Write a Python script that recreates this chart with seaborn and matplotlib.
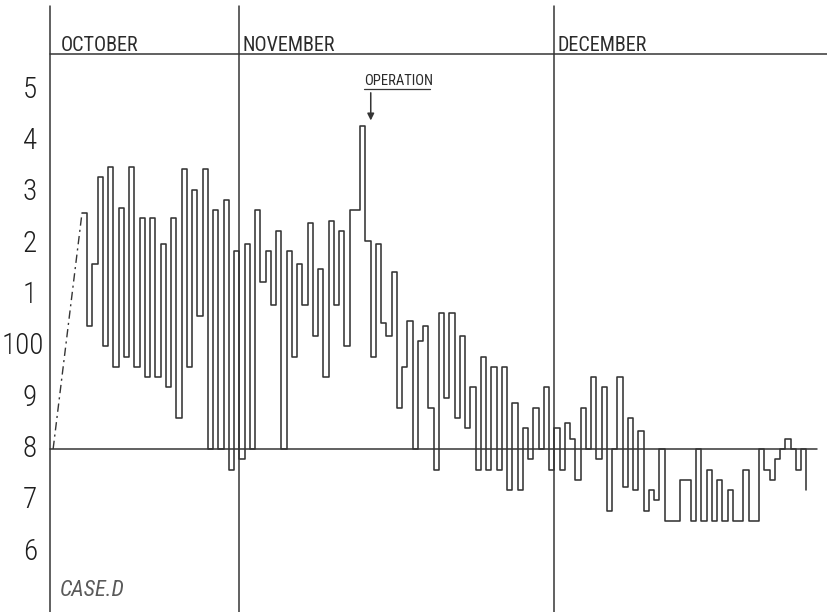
import matplotlib
matplotlib.use("Agg")
import matplotlib.pyplot as plt
from matplotlib import font_manager
import pandas as pd
import seaborn as sns

# Twice-daily temperature readings (deg F), first reading on the morning of 17 October
temps = [
    102.6, 100.4, 101.6, 103.3, 100.0, 103.5, 99.6, 102.7, 99.8, 103.5,
    99.6, 102.5, 99.4, 102.5, 99.4, 102.0, 99.2, 102.5, 98.6, 103.45,
    99.6, 103.05, 100.6, 103.45, 98.0, 102.65, 98.0, 102.85, 97.6, 101.85,
    # November
    97.8, 102.0, 98.0, 102.65, 101.25, 101.85, 100.8, 102.25, 98.0, 101.85,
    99.8, 101.6, 100.8, 102.4, 100.2, 101.5, 99.4, 102.45, 100.8, 102.25,
    100.0, 102.65, 102.65, 104.3, 102.05, 99.8, 102.0, 100.45, 100.2, 101.45,
    98.8, 99.6, 100.5, 98.0, 100.1, 100.4, 98.8, 97.6, 100.65, 99.0,
    100.65, 98.6, 100.2, 98.4, 99.2, 97.6, 99.8, 97.6, 99.6, 97.6,
    99.6, 97.2, 98.9, 97.2, 98.4, 97.8, 98.8, 98.0, 99.2, 97.6,
    # December
    98.4, 97.6, 98.5, 98.2, 97.4, 98.8, 98.0, 99.4, 97.8, 99.2,
    96.8, 98.0, 99.4, 97.25, 98.6, 97.2, 98.35, 96.8, 97.2, 97.0,
    98.0, 96.6, 96.6, 96.6, 97.4, 97.4, 96.6, 98.0, 96.6, 97.6,
    96.6, 97.4, 96.6, 97.2, 96.6, 96.6, 97.6, 96.6, 96.6, 98.0,
    97.6, 97.4, 97.8, 98.0, 98.2, 98.0, 97.6, 98.0, 97.2,
]
readings = list(range(len(temps)))

# Dotted lead-in from admission to the first charted reading
lead_x = [-5.5, 0]
lead_t = [98.0, 102.6]

# Month columns: reading index where each column begins
months = ["OCTOBER", "NOVEMBER", "DECEMBER"]
month_starts = [-6, 30, 90]

# Temperature scale labels (only the last digit, except 100)
scale_levels = [105, 104, 103, 102, 101, 100, 99, 98, 97, 96]
scale_labels = ["5", "4", "3", "2", "1", "100", "9", "8", "7", "6"]

normal_temp = 98.0
operation_reading = 55
operation_label = "OPERATION"
case_label = "CASE.D"

sns.set_theme(style="white")
available = {f.name for f in font_manager.fontManager.ttflist}


def pick(*names):
    for n in names:
        if n in available:
            return n
    return "DejaVu Sans"


narrow = pick("Liberation Sans Narrow", "DejaVu Sans Condensed", "Roboto Condensed",
              "Open Sans Condensed", "Liberation Sans")
plt.rcParams["font.family"] = [narrow, "DejaVu Sans"]

W, H = 828, 612
fig = plt.figure(figsize=(W / 100, H / 100), dpi=100)
ax = fig.add_axes([0, 0, 1, 1])

# Chart geometry (pixels): first reading at x=82, 5.25 px per reading,
# the 98 degree rule at y=449, 51.3 px per degree
X0, DX = 82.0, 5.25
Y98, DY = 449.0, 51.3


def kx(px):
    return (px - X0) / DX


def ty(py):
    return normal_temp + (Y98 - py) / DY


ax.set_xlim(kx(0), kx(W))
ax.set_ylim(ty(H), ty(0))
ax.axis("off")

ink = "#353535"

# Column rules and header rule
for s in month_starts:
    ax.axvline(s, ymin=0, ymax=1 - 6 / H, color=ink, lw=1.1)
ax.plot([month_starts[0], kx(W)], [ty(54), ty(54)], color=ink, lw=1.1)
ax.plot([month_starts[0], kx(817)], [normal_temp, normal_temp], color=ink, lw=1.1)

# Month headings
offsets_px = [10, 3, 3]
for name, s, off in zip(months, month_starts, offsets_px):
    ax.text(s + off / DX, ty(51), name, fontsize=14.5, color="#2b2b2b",
            ha="left", va="baseline")

# Temperature scale
for lvl, lab in zip(scale_levels, scale_labels):
    if len(lab) > 1:
        ax.text(kx(44), lvl, lab, fontsize=21, color="#1e1e1e", ha="right",
                va="center", fontweight="light")
    else:
        ax.text(kx(30), lvl, lab, fontsize=21, color="#1e1e1e", ha="center",
                va="center", fontweight="light")

# Temperature trace
df = pd.DataFrame({"reading": readings, "temp": temps})
sns.lineplot(data=df, x="reading", y="temp", drawstyle="steps-post",
             color=ink, lw=1.15, estimator=None, sort=False, ax=ax, legend=False)
ax.plot(lead_x, lead_t, color=ink, lw=1.0, linestyle=(0, (6, 3, 1.5, 3)))

# Operation marker
op_t = temps[53]
ax.annotate("", xy=(operation_reading, op_t + 0.05), xytext=(operation_reading, ty(90)),
            arrowprops=dict(arrowstyle="-|>", color=ink, lw=1.1, mutation_scale=10))
ax.text(kx(364), ty(85), operation_label, fontsize=10.5, color="#2b2b2b",
        ha="left", va="baseline")
ax.plot([kx(364), kx(430)], [ty(89), ty(89)], color=ink, lw=0.9)

# Case label
ax.text(kx(60), ty(596), case_label, fontsize=16, color="#5a5a5a", ha="left",
        va="baseline", style="italic")

ax.set_xlabel("")
ax.set_ylabel("")
fig.savefig("out.png", dpi=100, facecolor="white")
